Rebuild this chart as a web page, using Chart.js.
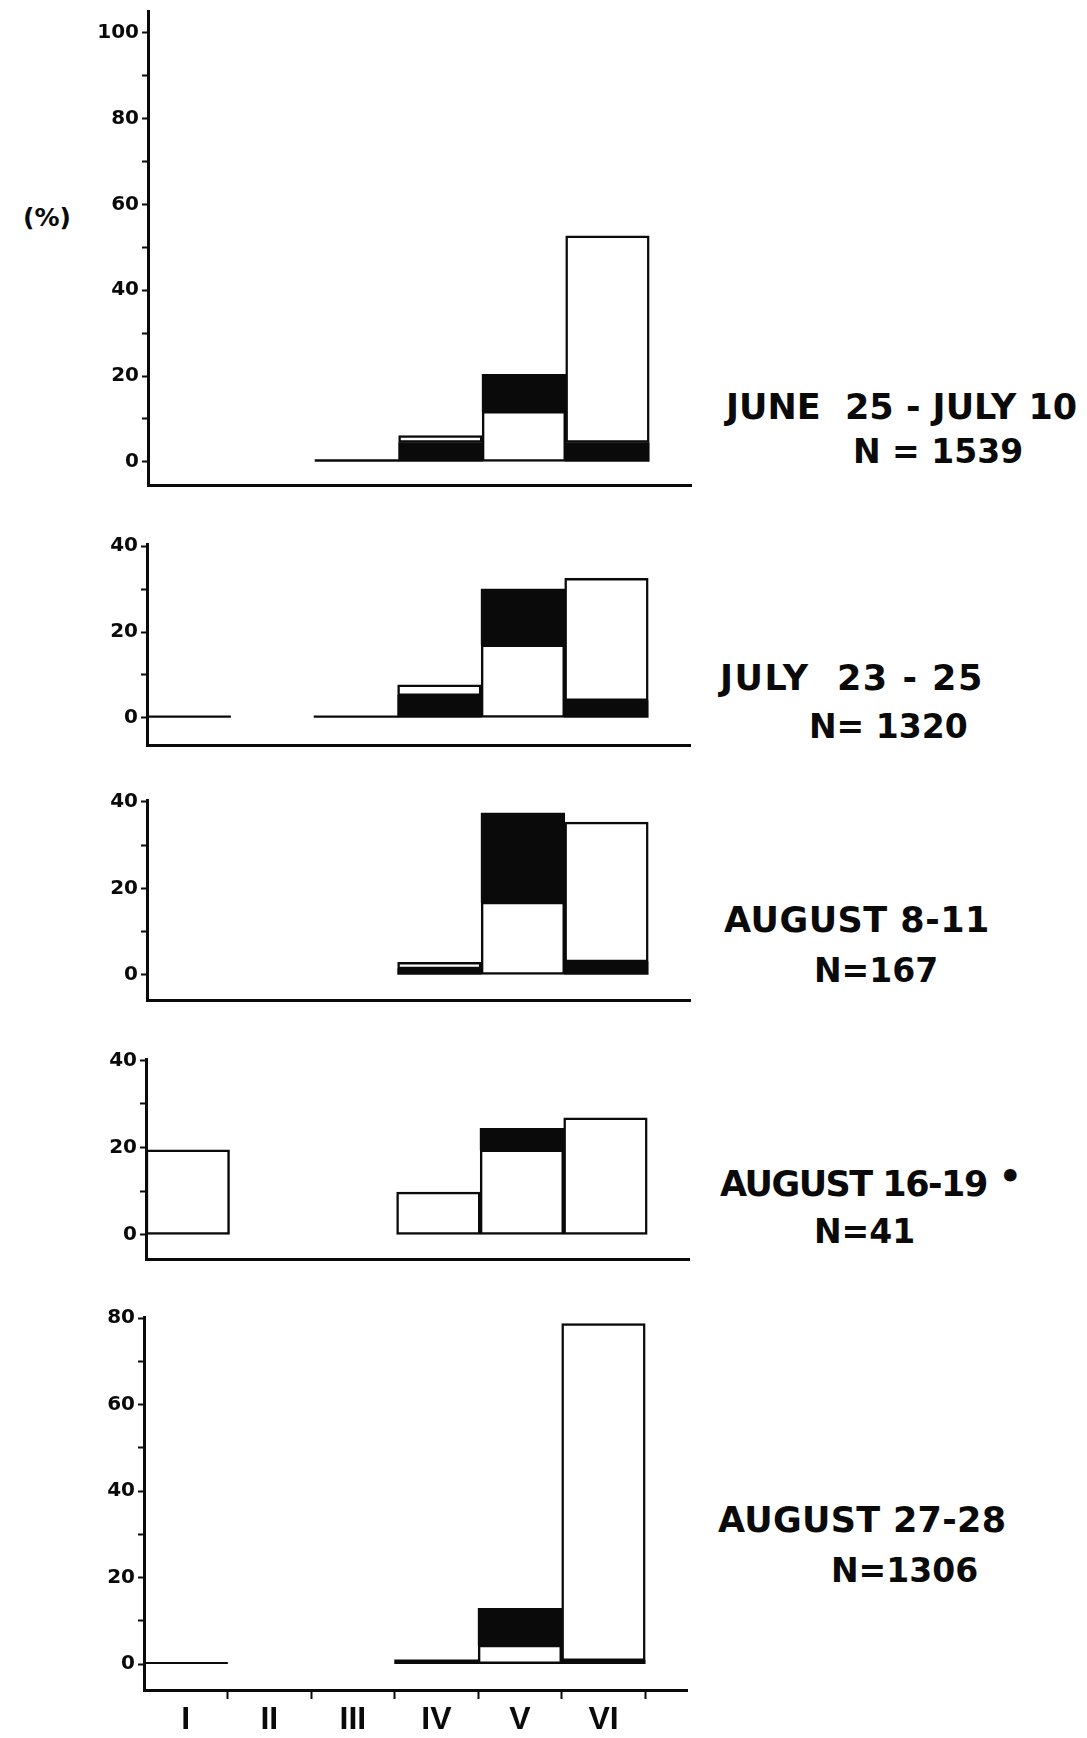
<!DOCTYPE html>
<html>
<head>
<meta charset="utf-8">
<title>Percent by class I-VI, five sampling periods</title>
<script src="https://cdn.jsdelivr.net/npm/chart.js@4.4.1/dist/chart.umd.min.js"></script>
<style>
  html, body { margin: 0; padding: 0; background: #fff; }
  #page { position: relative; width: 1087px; height: 1738px; overflow: hidden; background: #fff; }
  #page canvas { position: absolute; left: 0; }
  .label { position: absolute; font-family: 'DejaVu Sans', sans-serif; font-weight: bold; font-size: 33px;
           line-height: 1; color: #0a0a0a; white-space: pre; }
  .label.period { font-size: 35px; }
</style>
</head>
<body>
<div id="page">
  <div class="label" style="left:23px; top:205px; font-size:25px;">(%)</div>
</div>
<script>
// ---- data (percent) ----
var categories = ['I', 'II', 'III', 'IV', 'V', 'VI'];
var periods = ['JUNE  25 - JULY 10', 'JULY  23 - 25', 'AUGUST 8-11', 'AUGUST 16-19', 'AUGUST 27-28'];
var sampleSizes = ['N = 1539', 'N= 1320', 'N=167', 'N=41', 'N=1306'];

// black part sitting on the base of a bar
var baseBlack1 = [0, 0, 0.5, 4.5, 0, 4.5];
var open1      = [0, 0, 0, 1.6, 11.8, 48.2];
var topBlack1  = [0, 0, 0, 0, 8.6, 0];

var baseBlack2 = [0.5, 0, 0.5, 5.2, 0, 4];
var open2      = [0, 0, 0, 2.5, 17, 28.5];
var topBlack2  = [0, 0, 0, 0, 13, 0];

var baseBlack3 = [0, 0, 0, 1.4, 0, 3];
var open3      = [0, 0, 0, 1.5, 16.8, 32.3];
var topBlack3  = [0, 0, 0, 0, 20.6, 0];

var baseBlack4 = [0, 0, 0, 0, 0, 0];
var open4      = [19.5, 0, 0, 9.8, 19.5, 26.8];
var topBlack4  = [0, 0, 0, 0, 4.9, 0];

var baseBlack5 = [0.4, 0, 0, 1, 0, 0.8];
var open5      = [0, 0, 0, 0, 4.4, 78];
var topBlack5  = [0, 0, 0, 0, 8.5, 0];

// labelled y ticks of each panel
var yTicks1 = [0, 20, 40, 60, 80, 100];
var yTicks2 = [0, 20, 40];
var yTicks3 = [0, 20, 40];
var yTicks4 = [0, 20, 40];
var yTicks5 = [0, 20, 40, 60, 80];

var baseBlack = [baseBlack1, baseBlack2, baseBlack3, baseBlack4, baseBlack5];
var openParts = [open1, open2, open3, open4, open5];
var topBlack = [topBlack1, topBlack2, topBlack3, topBlack4, topBlack5];
var yTicks = [yTicks1, yTicks2, yTicks3, yTicks4, yTicks5];

// ---- layout of the panels on the page (pixels) ----
var UNIT = 83.6;     // width of one class on the x axis
var X_MAX = 6.5;
var INK = '#0a0a0a';
var boxes = [
    { axisX: 148, top: 11,   bottom: 485,  yMin: -5.4, yMax: 105.1, titleX: 726, titleY: 407, spacing: 0,    nX: 853, nY: 452 },
    { axisX: 147, top: 544,  bottom: 745,  yMin: -6.3, yMax: 40.5,  titleX: 720, titleY: 678, spacing: 1.5,  nX: 809, nY: 727 },
    { axisX: 147, top: 800,  bottom: 1000, yMin: -5.8, yMax: 40.4,  titleX: 724, titleY: 920, spacing: 0.5,  nX: 814, nY: 971 },
    { axisX: 146, top: 1059, bottom: 1259, yMin: -5.5, yMax: 40.3,  titleX: 720, titleY: 1183, spacing: -1.5, nX: 814, nY: 1232 },
    { axisX: 144, top: 1317, bottom: 1690, yMin: -6,   yMax: 80.3,  titleX: 718, titleY: 1520, spacing: 0.3, nX: 831, nY: 1571 }
];
var PAD_TOP = 14;

function segment(values, fill) {
    return {
        data: values.map(function (v, i) { return { x: i + 0.5, y: v > 0 ? v : null }; }),
        backgroundColor: fill,
        borderColor: INK,
        borderWidth: fill === '#fff' ? 2.5 : 0,
        borderSkipped: false,
        categoryPercentage: 1,
        barPercentage: 1
    };
}

function addLabel(text, left, centerY, cls) {
    var div = document.createElement('div');
    div.className = 'label' + (cls ? ' ' + cls : '');
    div.style.left = left + 'px';
    div.style.top = (centerY - 17) + 'px';
    div.textContent = text;
    document.getElementById('page').appendChild(div);
    return div;
}

function createPanelChart(index) {
    var box = boxes[index];
    var isLast = index === boxes.length - 1;
    var xHeight = isLast ? 62 : 4;
    var canvas = document.createElement('canvas');
    canvas.width = Math.round(box.axisX + X_MAX * UNIT + 4);
    canvas.height = Math.round(box.bottom - box.top + PAD_TOP + xHeight);
    canvas.style.top = (box.top - PAD_TOP) + 'px';
    document.getElementById('page').appendChild(canvas);

    var major = yTicks[index];
    var allTicks = [];
    major.forEach(function (v, i) {
        allTicks.push(v);
        if (i < major.length - 1) allTicks.push((v + major[i + 1]) / 2);
    });

    new Chart(canvas, {
        type: 'bar',
        data: {
            datasets: [
                segment(baseBlack[index], INK),
                segment(openParts[index], '#fff'),
                segment(topBlack[index], INK)
            ]
        },
        options: {
            responsive: false,
            animation: false,
            devicePixelRatio: 1,
            layout: { autoPadding: false, padding: { top: PAD_TOP, right: 4, left: 0, bottom: 0 } },
            plugins: { legend: { display: false }, tooltip: { enabled: false } },
            scales: {
                x: {
                    type: 'linear',
                    stacked: true,
                    offset: false,
                    min: 0,
                    max: X_MAX,
                    afterBuildTicks: function (axis) {
                        axis.ticks = categories.map(function (c, i) { return { value: i }; })
                            .concat([{ value: categories.length }]);
                    },
                    afterFit: function (axis) {
                        axis.height = xHeight;
                        axis.paddingLeft = 0;
                        axis.paddingRight = 0;
                    },
                    border: { display: true, color: INK, width: 3 },
                    grid: {
                        display: isLast,
                        offset: false,
                        drawOnChartArea: false,
                        drawTicks: true,
                        tickLength: 9,
                        tickWidth: 2,
                        tickColor: function (ctx) { return ctx.tick && ctx.tick.value > 0 ? INK : 'rgba(0,0,0,0)'; }
                    },
                    ticks: {
                        display: isLast,
                        autoSkip: false,
                        maxRotation: 0,
                        labelOffset: UNIT / 2,
                        padding: 2,
                        color: INK,
                        font: { family: 'Liberation Sans Narrow, Liberation Sans', weight: 'bold', size: 32 },
                        callback: function (value) { return categories[value] || ''; }
                    }
                },
                y: {
                    type: 'linear',
                    stacked: true,
                    min: box.yMin,
                    max: box.yMax,
                    afterBuildTicks: function (axis) {
                        axis.ticks = allTicks.map(function (v) { return { value: v }; });
                    },
                    afterFit: function (axis) {
                        axis.width = box.axisX;
                        axis.paddingTop = 0;
                        axis.paddingBottom = 0;
                    },
                    border: { display: true, color: INK, width: 3 },
                    grid: { drawOnChartArea: false, drawTicks: true, tickLength: 6, tickWidth: 2, tickColor: INK },
                    ticks: {
                        padding: 3,
                        color: INK,
                        font: { family: 'DejaVu Sans', weight: 'bold', size: 20 },
                        callback: function (value) { return major.indexOf(value) >= 0 ? String(value) : ''; }
                    }
                }
            }
        }
    });

    var title = addLabel(periods[index], box.titleX, box.titleY, 'period');
    title.style.letterSpacing = box.spacing + 'px';
    addLabel(sampleSizes[index], box.nX, box.nY);
    return title;
}

var titles = boxes.map(function (box, i) { return createPanelChart(i); });

// the small dot after the August 16-19 period
var dot = document.createElement('span');
dot.textContent = '\u2022';
dot.style.cssText = 'font-size:36px; position:relative; top:-7px; margin-left:12px;';
titles[3].appendChild(dot);
</script>
</body>
</html>
